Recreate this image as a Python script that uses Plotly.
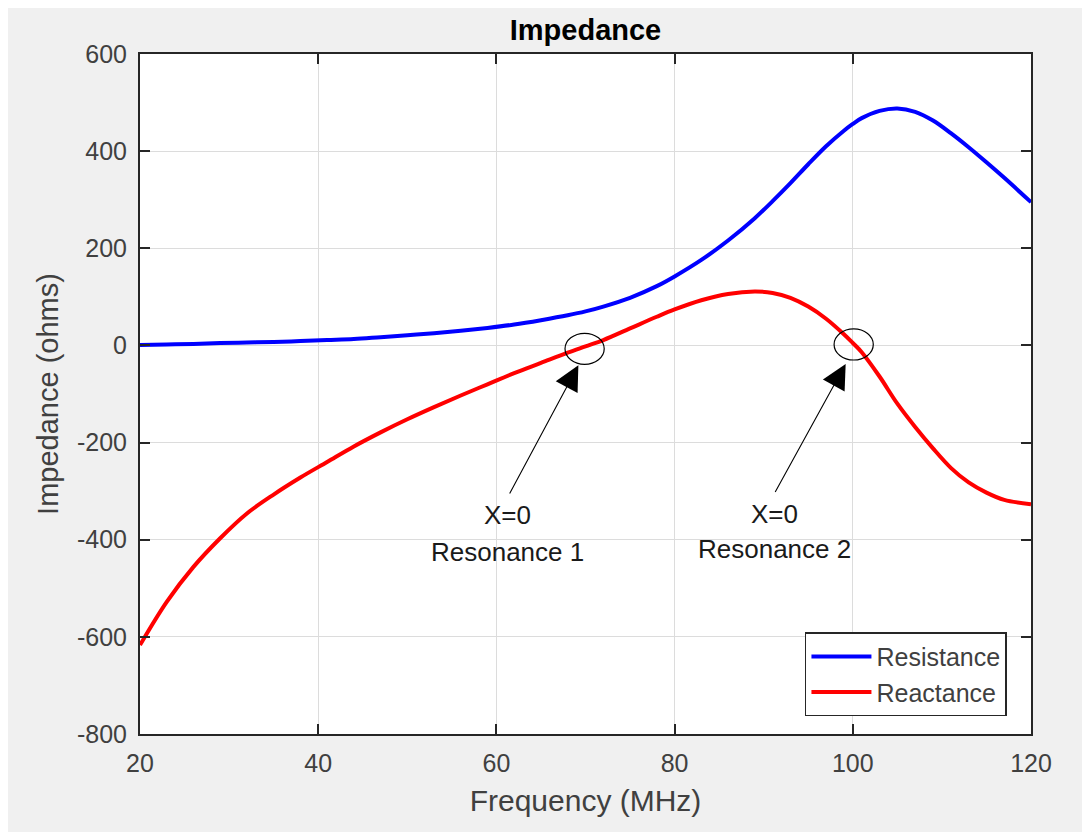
import plotly.graph_objects as go

# ---- data ----
freq = [20, 23, 26, 29, 32, 35, 38, 41, 44, 47, 50, 53, 56, 59, 62, 65, 68, 70, 72, 75,
        78, 80, 83, 86, 89, 91, 93, 95, 97, 99, 100, 101, 103, 105, 107, 109, 111, 113,
        115, 117, 120]
resistance = [1, 2, 3, 5, 6, 7, 9, 11, 13, 17, 21, 25, 30, 36, 43, 52, 62, 70, 80, 98,
              122, 142, 176, 216, 262, 297, 334, 373, 410, 442, 456, 468, 483, 488, 481,
              463, 437, 408, 377, 345, 295]
reactance = [-617, -528, -456, -397, -346, -307, -272, -240, -208, -179, -152, -127, -103,
             -80, -57, -36, -15, -2, 11, 35, 59, 74, 93, 106, 111, 108, 98, 80, 55, 23, 5,
             -14, -64, -120, -168, -212, -252, -282, -303, -318, -327]

x_ticks = [20, 40, 60, 80, 100, 120]
y_ticks = [-800, -600, -400, -200, 0, 200, 400, 600]
y_tick_text = ["-800", "-600", "-400", "-200", "0", "200", "400", "600"]

# resonance markers: centre frequency, centre value
res_freq = [69.9, 100.1]
res_val = [-7, 2]
res_labels = ["X=0", "X=0"]
res_names = ["Resonance 1", "Resonance 2"]
arrow_tail_f = [61.4, 91.2]
arrow_tail_v = [-308, -305]
arrow_head_f = [69.2, 99.2]
arrow_head_v = [-41, -38]
label_f = [61.3, 91.2]
label_v1 = [-350, -347]
label_v2 = [-425, -420]

FONT = "Liberation Sans, Arial, Helvetica, sans-serif"
AX = "#262626"
TXT = "#404040"

fig = go.Figure()
fig.add_trace(go.Scatter(x=freq, y=resistance, mode="lines", name="Resistance",
                         line=dict(color="#0000ff", width=4, shape="spline", smoothing=1.0)))
fig.add_trace(go.Scatter(x=freq, y=reactance, mode="lines", name="Reactance",
                         line=dict(color="#ff0000", width=4, shape="spline", smoothing=1.0)))

shapes = []
annotations = []
for i in range(2):
    shapes.append(dict(type="circle", xref="x", yref="y",
                       x0=res_freq[i] - 2.2, x1=res_freq[i] + 2.2,
                       y0=res_val[i] - 32, y1=res_val[i] + 32,
                       line=dict(color="#000000", width=1.2)))
    annotations.append(dict(x=arrow_head_f[i], y=arrow_head_v[i], ax=arrow_tail_f[i],
                            ay=arrow_tail_v[i], xref="x", yref="y", axref="x", ayref="y",
                            text="", showarrow=True, arrowhead=2, arrowsize=4.5,
                            arrowwidth=1.1, arrowcolor="#000000"))
    annotations.append(dict(x=label_f[i], y=label_v1[i], xref="x", yref="y",
                            text=res_labels[i], showarrow=False,
                            font=dict(family=FONT, size=26, color="#1a1a1a")))
    annotations.append(dict(x=label_f[i], y=label_v2[i], xref="x", yref="y",
                            text=res_names[i], showarrow=False,
                            font=dict(family=FONT, size=26, color="#1a1a1a")))

axis_common = dict(showline=True, linecolor=AX, linewidth=2, mirror="ticks",
                   ticks="inside", ticklen=10, tickwidth=1.5, tickcolor=AX,
                   showgrid=True, gridcolor="#dcdcdc", gridwidth=1, zeroline=False,
                   tickfont=dict(family=FONT, size=25, color=TXT))

fig.update_layout(
    width=1082, height=824,
    paper_bgcolor="#f0f0f0", plot_bgcolor="#ffffff",
    margin=dict(l=132, r=59, t=46, b=98),
    title=dict(text="<b>Impedance</b>", x=0.5, xref="paper", xanchor="center",
               y=1 - 22 / 824, yref="container", yanchor="middle",
               font=dict(family=FONT, size=29, color="#000000")),
    xaxis=dict(range=[20, 120], tickvals=x_ticks, ticklabelstandoff=6,
               title=dict(text="Frequency (MHz)", standoff=14,
                          font=dict(family=FONT, size=30, color=TXT)),
               **axis_common),
    yaxis=dict(range=[-800, 600], tickvals=y_ticks, ticktext=y_tick_text,
               ticklabelstandoff=6,
               title=dict(text="Impedance (ohms)", standoff=10,
                          font=dict(family=FONT, size=29, color=TXT)),
               **axis_common),
    legend=dict(x=0.973, y=0.026, xanchor="right", yanchor="bottom",
                bgcolor="#ffffff", bordercolor=AX, borderwidth=1.5,
                font=dict(family=FONT, size=25, color=TXT), itemwidth=60,
                tracegroupgap=2),
    shapes=shapes, annotations=annotations, showlegend=True,
)

fig.write_html("out.html")
